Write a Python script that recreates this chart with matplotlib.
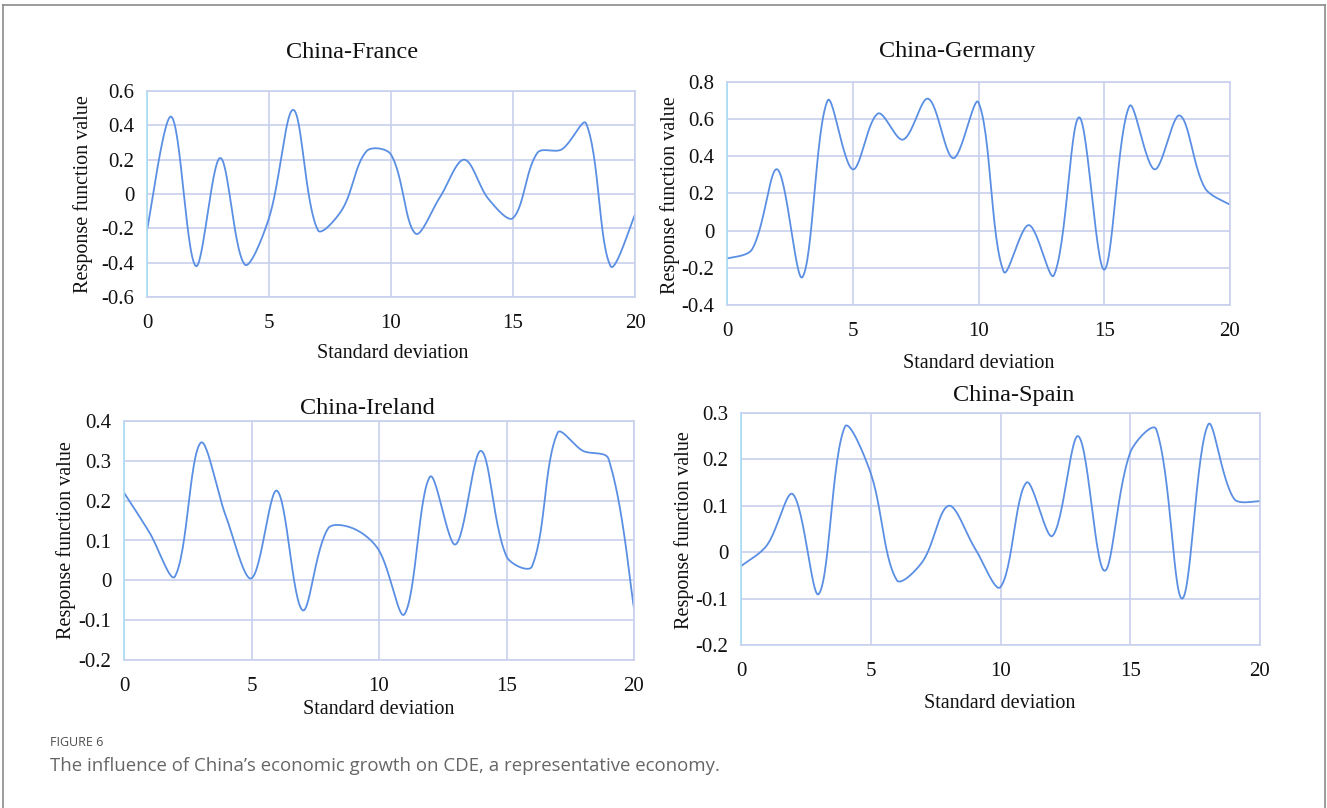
import numpy as np
import matplotlib
matplotlib.use("Agg")
import matplotlib.pyplot as plt
from matplotlib.lines import Line2D

W, H = 1327, 808

steps = list(range(21))

france = [-0.21, 0.45, -0.42, 0.21, -0.41, -0.14, 0.49, -0.21, -0.09, 0.25, 0.23,
          -0.23, -0.02, 0.20, -0.03, -0.14, 0.24, 0.26, 0.41, -0.42, -0.12]
germany = [-0.15, -0.10, 0.33, -0.25, 0.70, 0.33, 0.63, 0.49, 0.71, 0.39, 0.69,
           -0.22, 0.03, -0.24, 0.61, -0.21, 0.67, 0.33, 0.62, 0.23, 0.14]
ireland = [0.22, 0.12, 0.01, 0.345, 0.16, 0.005, 0.225, -0.075, 0.13, 0.13, 0.075,
           -0.085, 0.26, 0.09, 0.325, 0.06, 0.035, 0.37, 0.325, 0.305, -0.07]
spain = [-0.03, 0.015, 0.125, -0.09, 0.27, 0.17, -0.06, -0.02, 0.10, 0.01, -0.075,
         0.15, 0.035, 0.25, -0.04, 0.215, 0.265, -0.10, 0.275, 0.115, 0.11]

y_ticks = {
    "France": [-0.6, -0.4, -0.2, 0, 0.2, 0.4, 0.6],
    "Germany": [-0.4, -0.2, 0, 0.2, 0.4, 0.6, 0.8],
    "Ireland": [-0.2, -0.1, 0, 0.1, 0.2, 0.3, 0.4],
    "Spain": [-0.2, -0.1, 0, 0.1, 0.2, 0.3],
}

LINE = "#5b8fe3"
GRID = "#c9d0ee"
LEFT = "#a9dcf3"


def smooth(x, y, sx, sy, n=30, t=1 / 3):
    # spreadsheet-like smoothed line: bezier handles scaled by neighbouring
    # segment lengths, worked out in pixel space (sx, sy = px per data unit)
    P = np.column_stack([np.asarray(x, float) * sx, np.asarray(y, float) * sy])
    m = len(P)
    cin = np.zeros_like(P)
    cout = np.zeros_like(P)
    for i in range(m):
        if i == 0 or i == m - 1:
            j = 1 if i == 0 else m - 2
            cout[i] = P[i] + (P[j] - P[i]) / 6
            cin[i] = P[i] + (P[j] - P[i]) / 6
            continue
        d01 = np.hypot(*(P[i] - P[i - 1]))
        d12 = np.hypot(*(P[i + 1] - P[i]))
        tan = P[i + 1] - P[i - 1]
        cin[i] = P[i] - tan * t * d01 / (d01 + d12)
        cout[i] = P[i] + tan * t * d12 / (d01 + d12)
    xs, ys = [], []
    u = np.linspace(0, 1, n)[:, None]
    for i in range(m - 1):
        p1, c1, c2, p2 = P[i], cout[i], cin[i + 1], P[i + 1]
        pts = (1 - u) ** 3 * p1 + 3 * (1 - u) ** 2 * u * c1 + 3 * (1 - u) * u ** 2 * c2 + u ** 3 * p2
        xs.extend(pts[:, 0] / sx)
        ys.extend(pts[:, 1] / sy)
    return np.array(xs), np.array(ys)


def fx(px):
    return px / W


def fy(py):
    return 1 - py / H


def fmt(v):
    if abs(v) < 1e-9:
        return "0"
    return f"{v:g}"


plt.rcParams["font.family"] = ["Liberation Serif", "DejaVu Serif"]

fig = plt.figure(figsize=(W / 100, H / 100), dpi=100)

# panels: name, values, box (left, top, right, bottom px), title pos, xlabel pos, ylabel pos
panels = [
    ("China-France", france, y_ticks["France"], (147, 91, 635, 297), (352, 52), (393, 353), (83, 194)),
    ("China-Germany", germany, y_ticks["Germany"], (727, 82, 1230, 305), (957, 52), (979, 364), (670, 195)),
    ("China-Ireland", ireland, y_ticks["Ireland"], (124, 421, 634, 660), (367, 409), (379, 710), (66, 540)),
    ("China-Spain", spain, y_ticks["Spain"], (741, 413, 1260, 645), (1014, 396), (1000, 703), (684, 530)),
]

for title, vals, yt, box, tpos, xlpos, ylpos in panels:
    l, t, r, b = box
    ax = fig.add_axes([fx(l), fy(b), fx(r) - fx(l), fy(t) - fy(b)])
    px_x = (r - l) / 20
    px_y = (b - t) / (yt[-1] - yt[0])
    sx, sy = smooth(steps, vals, px_x, px_y)
    ax.plot(sx, sy, color=LINE, lw=1.3)
    ax.set_xlim(0, 20)
    ax.set_ylim(yt[0], yt[-1])
    ax.set_xticks([0, 5, 10, 15, 20])
    ax.set_yticks(yt)
    ax.set_yticklabels([fmt(v) for v in yt])
    ax.grid(True, color=GRID, lw=1.2)
    ax.set_axisbelow(True)
    ax.tick_params(length=0, labelsize=15, colors="#111111", pad=9)
    ax.tick_params(axis="x", pad=12)
    for s in ["top", "right", "bottom"]:
        ax.spines[s].set_color(GRID)
        ax.spines[s].set_linewidth(1.2)
    ax.spines["left"].set_color(LEFT)
    ax.spines["left"].set_linewidth(1.2)
    fig.text(fx(tpos[0]), fy(tpos[1]), title, ha="center", va="center", fontsize=17.5, color="#111111")
    fig.text(fx(xlpos[0]), fy(xlpos[1]), "Standard deviation", ha="center", va="center",
             fontsize=14.5, color="#111111")
    fig.text(fx(ylpos[0]), fy(ylpos[1]), "Response function value", ha="center", va="center",
             rotation=90, fontsize=14.5, color="#111111")

# page frame
fig.add_artist(Line2D([fx(3), fx(1325)], [fy(5), fy(5)], color="#8a8a8a", lw=1.2))
fig.add_artist(Line2D([fx(3), fx(3)], [fy(5), 0], color="#8a8a8a", lw=1.2))
fig.add_artist(Line2D([fx(1325), fx(1325)], [fy(5), 0], color="#8a8a8a", lw=1.2))

fig.text(fx(50), fy(742), "FIGURE 6", ha="left", va="center", fontsize=9,
         color="#4d4d4d", family=["Open Sans", "DejaVu Sans"])
fig.text(fx(50), fy(766), "The influence of China\u2019s economic growth on CDE, a representative economy.",
         ha="left", va="center", fontsize=13.4, color="#666666", family=["Open Sans", "DejaVu Sans"])

fig.savefig("out.png", dpi=100)
